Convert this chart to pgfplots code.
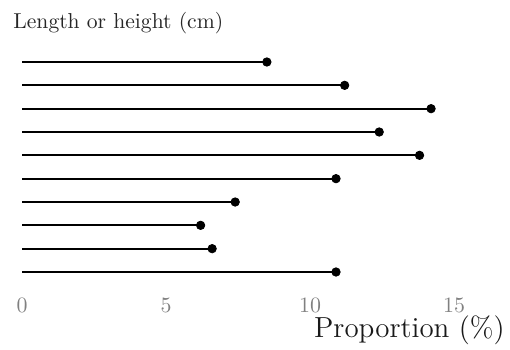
\documentclass[border=0pt]{standalone}
\usepackage{pgfplots}
\pgfplotsset{compat=1.18}
\pgfplotstableread{
row val
1 8.5
2 11.2
3 14.2
4 12.4
5 13.8
6 10.9
7 7.4
8 6.2
9 6.6
10 10.9
}\lolli
\begin{document}
\begin{tikzpicture}
\begin{axis}[
  scale only axis, width=255pt, height=174.5pt,
  xmin=-0.764, xmax=16.94, ymin=-1.657, ymax=13.3,
  y dir=reverse, clip=false,
  axis line style={draw=none}, tick style={draw=none},
  xtick={0,5,10,15}, ytick=\empty,
  xticklabel style={anchor=center, yshift=22pt, text=black!50, font=\fontsize{11}{12}\selectfont},
]
\path (rel axis cs:0,0) rectangle (rel axis cs:1,1);
\addplot[xcomb, black, line width=1.1pt] table[x=val, y=row] {\lolli};
\addplot[only marks, mark=*, mark size=2.1pt, black] table[x=val, y=row] {\lolli};
\node[anchor=base west, text=black!85, font=\fontsize{10.8}{12}\selectfont, inner sep=0pt] at (axis cs:-0.3125,-0.457) {Length or height (cm)};
\node[anchor=base east, text=black!90, font=\fontsize{14.5}{17}\selectfont, inner sep=0pt] at (axis cs:16.77,12.79) {Proportion (\%)};
\end{axis}
\end{tikzpicture}
\end{document}
